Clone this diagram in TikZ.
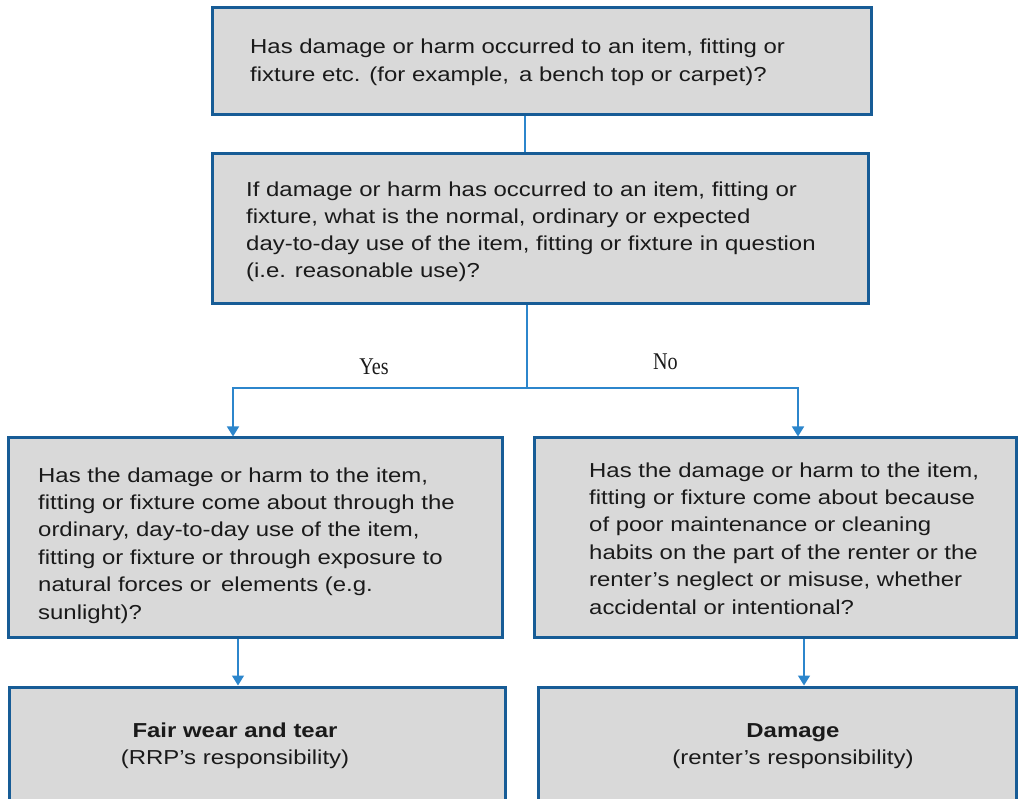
\documentclass[tikz,border=0pt]{standalone}
\usepackage{fontspec}
\setmainfont{Liberation Sans}[FakeStretch=1.185]
\newfontfamily\yesnofont{Liberation Serif}[FakeStretch=0.84]
\usetikzlibrary{arrows.meta}
\definecolor{boxborder}{HTML}{175C96}
\definecolor{boxfill}{HTML}{D9D9D9}
\definecolor{connblue}{HTML}{2C86CC}
\definecolor{txt}{HTML}{1A1A1A}
\tikzset{
  qbox/.style={draw=boxborder, fill=boxfill, line width=3pt, rectangle, inner sep=0pt},
  qtext/.style={anchor=base west, align=left, inner sep=0pt, text=txt,
    font=\fontsize{20.2}{27.4}\selectfont},
  rtext/.style={anchor=base, align=center, inner sep=0pt, text=txt,
    font=\fontsize{20.2}{27}\selectfont},
  conn/.style={draw=connblue, line width=1.6pt},
  arr/.style={conn, -{Triangle[width=12pt,length=10pt]}},
  lbl/.style={inner sep=0pt, text=txt, font=\yesnofont\fontsize{24}{26}\selectfont}
}
\begin{document}
\begin{tikzpicture}[x=1pt,y=-1pt]
\useasboundingbox (0,0) rectangle (1018,799);
% boxes
\node[qbox, minimum width=659pt, minimum height=107pt] (b1) at (541.5,61.5) {};
\node[qbox, minimum width=656pt, minimum height=150pt] (b2) at (540,229) {};
\node[qbox, minimum width=494pt, minimum height=199pt] (b3) at (255,537.5) {};
\node[qbox, minimum width=482pt, minimum height=199pt] (b4) at (775,537.5) {};
\node[qbox, minimum width=496pt, minimum height=150pt] (b5) at (257,762) {};
\node[qbox, minimum width=478pt, minimum height=150pt] (b6) at (777,762) {};
% texts (anchored at the baseline of their last line)
\node[qtext, font=\fontsize{20.2}{28}\selectfont] (t1) at (250,82) {Has damage or harm occurred to an item, fitting or\\fixture etc. (for example,\, a bench top or carpet)?};
\node[qtext, font=\fontsize{20.2}{27}\selectfont] (t2) at (246,278) {If damage or harm has occurred to an item, fitting or\\fixture, what is the normal, ordinary or expected\\day-to-day use of the item, fitting or fixture in question\\(i.e. reasonable use)?};
\node[qtext] (t3) at (38,619) {Has the damage or harm to the item,\\fitting or fixture come about through the\\ordinary, day-to-day use of the item,\\fitting or fixture or through exposure to\\natural forces or\, elements (e.g.\\sunlight)?};
\node[qtext] (t4) at (589,614) {Has the damage or harm to the item,\\fitting or fixture come about because\\of poor maintenance or cleaning\\habits on the part of the renter or the\\renter’s neglect or misuse, whether\\accidental or intentional?};
\node[rtext] (t5) at (235,764) {\textbf{Fair wear and tear}\\(RRP’s responsibility)};
\node[rtext] (t6) at (793,764) {\textbf{Damage}\\(renter’s responsibility)};
% connectors
\coordinate (c1) at (525,0);
\coordinate (split) at (527,388);
\coordinate (yesx) at (233,0);
\coordinate (nox) at (798,0);
\coordinate (lx) at (238,0);
\coordinate (rx) at (804,0);
\draw[conn] (b1.south -| c1) -- (b2.north -| c1);
\draw[conn] (b2.south -| split) -- (split);
\draw[arr] (split) -- (split -| yesx) -- (b3.north -| yesx);
\draw[arr] (split) -- (split -| nox) -- (b4.north -| nox);
\draw[arr] (b3.south -| lx) -- (b5.north -| lx);
\draw[arr] (b4.south -| rx) -- (b6.north -| rx);
\node[lbl] (yes) at (374,366.5) {Yes};
\node[lbl] (no) at (665.5,362) {No};
\end{tikzpicture}
\end{document}
